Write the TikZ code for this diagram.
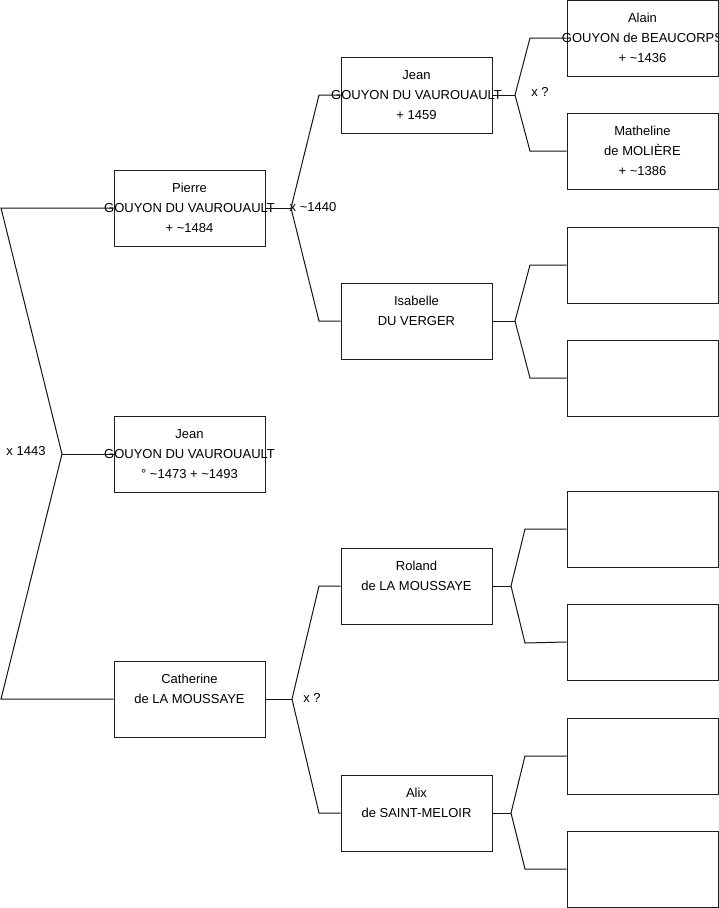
\documentclass[tikz,border=0pt]{standalone}
\usepackage{fontspec}
\setmainfont{Liberation Sans}
\usetikzlibrary{positioning}
\definecolor{boxline}{RGB}{30,30,30}
\definecolor{linkline}{RGB}{20,20,20}

\tikzset{
  person/.style={draw=boxline, line width=1pt, minimum width=151pt, minimum height=76pt, inner sep=0pt},
  nametext/.style={align=center, font=\fontsize{13}{20}\selectfont, inner sep=0pt},
  link/.style={draw=linkline, line width=1pt},
  union/.style={font=\fontsize{13}{15}\selectfont, inner sep=0pt}
}

\begin{document}
\begin{tikzpicture}[x=1pt, y=-1pt]
            \useasboundingbox (0,0) rectangle (719,908);

            % Unions (drawn first, boxes on top)
            \coordinate (u1top) at (1,208);
            \coordinate (u1) at (62,454);
            \coordinate (u1bot) at (1,699);
            \coordinate (u2) at (291,208);
            \coordinate (u2a) at (319,95);
            \coordinate (u2b) at (319,321);
            \coordinate (u3) at (515,95);
            \coordinate (u3a) at (530,38);
            \coordinate (u3b) at (530,151);
            \coordinate (u4) at (515,321);
            \coordinate (u4a) at (530,265);
            \coordinate (u4b) at (530,378);
            \coordinate (u5) at (292,699);
            \coordinate (u5a) at (319,586);
            \coordinate (u5b) at (319,813);
            \coordinate (u6) at (511,586);
            \coordinate (u6a) at (525,529);
            \coordinate (u6b) at (525,643);
            \coordinate (u7) at (511,813);
            \coordinate (u7a) at (525,756);
            \coordinate (u7b) at (525,869);

            % Generation 1
            \node[person, label={[nametext]center:{Jean\\GOUYON DU VAUROUAULT\\° \textasciitilde1473 + \textasciitilde1493}}] (jeanfils) at (189.5,454) {};

            % Generation 2
            \node[person, label={[nametext]center:{Pierre\\GOUYON DU VAUROUAULT\\+ \textasciitilde1484}}] (pierre) at (189.5,208) {};
            \node[person, label={[nametext]center:{Catherine\\de LA MOUSSAYE\\~}}] (catherine) at (189.5,699) {};

            % Generation 3
            \node[person, label={[nametext]center:{Jean\\GOUYON DU VAUROUAULT\\+ 1459}}] (jeanpere) at (416.5,95) {};
            \node[person, label={[nametext]center:{Isabelle\\DU VERGER\\~}}] (isabelle) at (416.5,321) {};
            \node[person, label={[nametext]center:{Roland\\de LA MOUSSAYE\\~}}] (roland) at (416.5,586) {};
            \node[person, label={[nametext]center:{Alix\\de SAINT-MELOIR\\~}}] (alix) at (416.5,813) {};

            % Generation 4
            \node[person, label={[nametext]center:{Alain\\GOUYON de BEAUCORPS\\+ \textasciitilde1436}}] (alain) at (642.5,38) {};
            \node[person, label={[nametext]center:{Matheline\\de MOLIÈRE\\+ \textasciitilde1386}}] (matheline) at (642.5,151) {};
            \node[person] (isabellep) at (642.5,265) {};
            \node[person] (isabellem) at (642.5,378) {};
            \node[person] (rolandp) at (642.5,529) {};
            \node[person] (rolandm) at (642.5,642) {};
            \node[person] (alixp) at (642.5,756) {};
            \node[person] (alixm) at (642.5,869) {};

            % Links
            \draw[link] (pierre.west) -- (u1top) -- (u1) -- (u1bot) -- (catherine.west);
            \draw[link] (u1) -- (jeanfils.west);
            \draw[link] (pierre.east) -- (u2);
            \draw[link] (jeanpere.west) -- (u2a) -- (u2) -- (u2b) -- (isabelle.west);
            \draw[link] (jeanpere.east) -- (u3);
            \draw[link] (alain.west) -- (u3a) -- (u3) -- (u3b) -- (matheline.west);
            \draw[link] (isabelle.east) -- (u4);
            \draw[link] (isabellep.west) -- (u4a) -- (u4) -- (u4b) -- (isabellem.west);
            \draw[link] (catherine.east) -- (u5);
            \draw[link] (roland.west) -- (u5a) -- (u5) -- (u5b) -- (alix.west);
            \draw[link] (roland.east) -- (u6);
            \draw[link] (rolandp.west) -- (u6a) -- (u6) -- (u6b) -- (rolandm.west);
            \draw[link] (alix.east) -- (u7);
            \draw[link] (alixp.west) -- (u7a) -- (u7) -- (u7b) -- (alixm.west);

            % Marriage labels
            \node[union] (m1) at (26,451) {x 1443};
            \node[union] (m2) at (313,207) {x \textasciitilde1440};
            \node[union] (m3) at (540,92) {x ?};
            \node[union] (m5) at (312,698) {x ?};
        \end{tikzpicture}
\end{document}
